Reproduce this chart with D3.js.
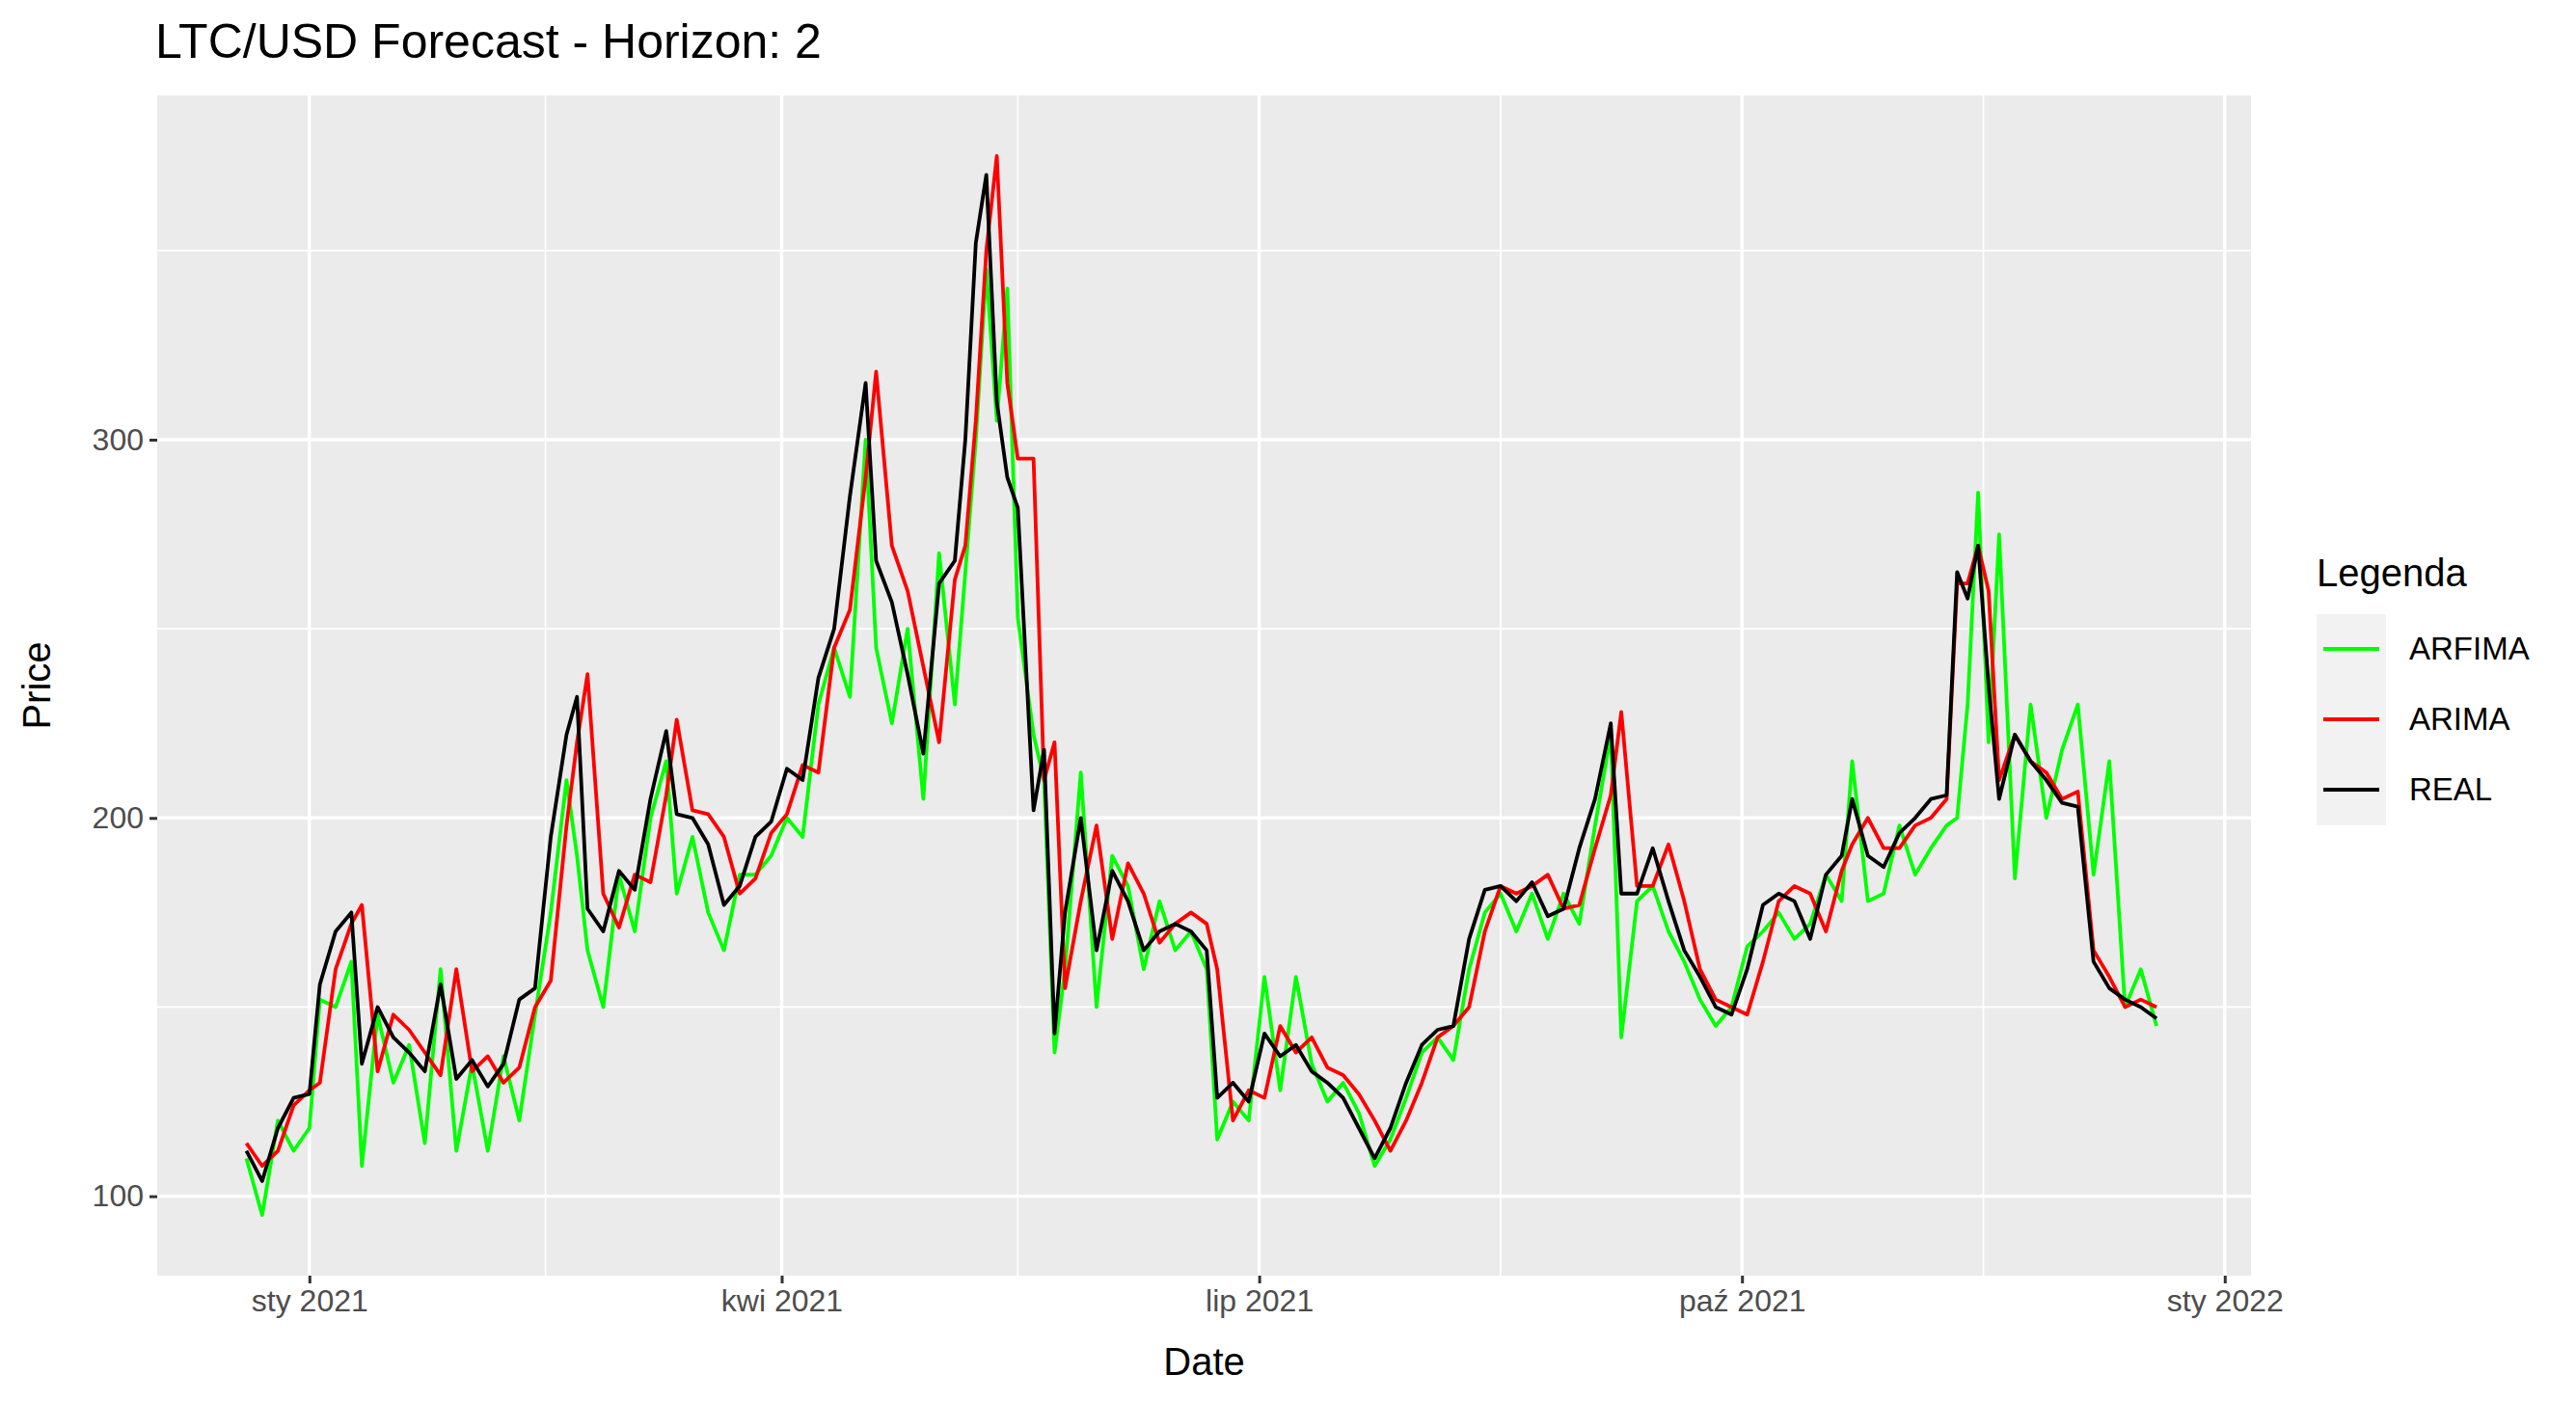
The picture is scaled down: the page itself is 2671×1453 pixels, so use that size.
<!DOCTYPE html>
<html>
<head>
<meta charset="utf-8">
<script src="https://cdn.jsdelivr.net/npm/d3@7"></script>
<style>
  body { margin: 0; background: #fff; }
  text { font-family: "Liberation Sans", Arial, sans-serif; }
</style>
</head>
<body>
<svg id="chart" width="2671" height="1453"></svg>
<script>
// ---- data (~every 3 days) ----
const dates = ["2020-12-20","2020-12-23","2020-12-26","2020-12-29","2021-01-01","2021-01-03","2021-01-06","2021-01-09","2021-01-11","2021-01-14","2021-01-17","2021-01-20","2021-01-23","2021-01-26","2021-01-29","2021-02-01","2021-02-04","2021-02-07","2021-02-10","2021-02-13","2021-02-16","2021-02-19","2021-02-21","2021-02-23","2021-02-26","2021-03-01","2021-03-04","2021-03-07","2021-03-10","2021-03-12","2021-03-15","2021-03-18","2021-03-21","2021-03-24","2021-03-27","2021-03-30","2021-04-02","2021-04-05","2021-04-08","2021-04-11","2021-04-14","2021-04-17","2021-04-19","2021-04-22","2021-04-25","2021-04-28","2021-05-01","2021-05-04","2021-05-06","2021-05-08","2021-05-10","2021-05-12","2021-05-14","2021-05-16","2021-05-19","2021-05-21","2021-05-23","2021-05-25","2021-05-28","2021-05-31","2021-06-03","2021-06-06","2021-06-09","2021-06-12","2021-06-15","2021-06-18","2021-06-21","2021-06-23","2021-06-26","2021-06-29","2021-07-02","2021-07-05","2021-07-08","2021-07-11","2021-07-14","2021-07-17","2021-07-20","2021-07-23","2021-07-26","2021-07-29","2021-08-01","2021-08-04","2021-08-07","2021-08-10","2021-08-13","2021-08-16","2021-08-19","2021-08-22","2021-08-25","2021-08-28","2021-08-31","2021-09-03","2021-09-06","2021-09-08","2021-09-11","2021-09-14","2021-09-17","2021-09-20","2021-09-23","2021-09-26","2021-09-29","2021-10-02","2021-10-05","2021-10-08","2021-10-11","2021-10-14","2021-10-17","2021-10-20","2021-10-22","2021-10-25","2021-10-28","2021-10-31","2021-11-03","2021-11-06","2021-11-09","2021-11-11","2021-11-13","2021-11-15","2021-11-17","2021-11-19","2021-11-22","2021-11-25","2021-11-28","2021-12-01","2021-12-04","2021-12-07","2021-12-10","2021-12-13","2021-12-16","2021-12-19"];

const real = [112,104,118,126,127,156,170,175,135,150,142,138,133,156,131,136,129,135,152,155,195,222,232,176,170,186,181,205,223,201,200,193,177,182,195,199,213,210,237,250,285,315,268,257,238,217,262,268,300,352,370,310,290,282,202,218,143,175,200,165,186,178,165,170,172,170,165,126,130,125,143,137,140,133,130,126,118,110,118,130,140,144,145,168,181,182,178,183,174,176,192,205,225,180,180,192,178,165,158,150,148,160,177,180,178,168,185,190,205,190,187,196,200,205,206,265,258,272,235,205,222,215,210,204,203,162,155,152,150,147,155];

const arima = [114,108,112,124,128,130,160,172,177,133,148,144,138,132,160,133,137,130,134,150,157,198,220,238,180,171,185,183,206,226,202,201,195,180,184,196,201,214,212,245,255,290,318,272,260,240,220,263,272,305,350,375,315,295,295,210,220,155,178,198,168,188,180,167,172,175,172,160,120,128,126,145,138,142,134,132,127,120,112,120,130,142,145,150,170,182,180,182,185,176,177,192,206,228,182,182,193,178,160,152,150,148,162,178,182,180,170,186,193,200,192,192,198,200,205,262,262,272,260,210,222,215,212,205,207,165,158,150,152,150,145];

const arfima = [110,95,120,112,118,152,150,162,108,148,130,140,114,160,112,135,112,137,120,148,175,210,190,165,150,185,170,200,215,180,195,175,165,185,185,190,200,195,230,245,232,300,245,225,250,205,270,230,265,300,345,305,340,253,222,210,138,160,212,150,190,182,160,178,165,170,160,115,125,120,158,128,158,135,125,130,122,108,115,126,138,142,136,160,175,180,170,180,168,180,172,198,222,142,178,182,170,162,152,145,150,166,170,175,168,172,185,178,215,178,180,198,185,192,198,200,230,286,220,275,184,230,200,218,230,185,215,150,160,145,167,148];

const seriesNames = ["ARFIMA", "ARIMA", "REAL"];
const seriesColors = ["#00FF00", "#FF0000", "#000000"];
const yTicks = [100, 200, 300];
const yMinor = [150, 250, 350];
const xTickDates = ["2021-01-01","2021-04-01","2021-07-01","2021-10-01","2022-01-01"];
const xTickLabels = ["sty 2021", "kwi 2021", "lip 2021", "paź 2021", "sty 2022"];
const xMinorDates = ["2021-02-15","2021-05-16","2021-08-16","2021-11-16"];

// ---- layout ----
const panel = { left: 163, right: 2334, top: 99, bottom: 1323 };
const parse = d3.timeParse("%Y-%m-%d");

const x = d3.scaleTime()
  .domain([parse("2020-12-03"), parse("2022-01-06")])
  .range([panel.left, panel.right]);
const y = d3.scaleLinear()
  .domain([79, 391])
  .range([panel.bottom, panel.top]);

const svg = d3.select("#chart");

// panel background
svg.append("rect")
  .attr("x", panel.left).attr("y", panel.top)
  .attr("width", panel.right - panel.left)
  .attr("height", panel.bottom - panel.top)
  .attr("fill", "#EBEBEB");

// grid lines
const grid = svg.append("g");
yMinor.forEach(v => grid.append("line")
  .attr("x1", panel.left).attr("x2", panel.right)
  .attr("y1", y(v)).attr("y2", y(v))
  .attr("stroke", "#fff").attr("stroke-width", 1.7));
xMinorDates.forEach(d => grid.append("line")
  .attr("x1", x(parse(d))).attr("x2", x(parse(d)))
  .attr("y1", panel.top).attr("y2", panel.bottom)
  .attr("stroke", "#fff").attr("stroke-width", 1.7));
yTicks.forEach(v => grid.append("line")
  .attr("x1", panel.left).attr("x2", panel.right)
  .attr("y1", y(v)).attr("y2", y(v))
  .attr("stroke", "#fff").attr("stroke-width", 3.4));
xTickDates.forEach(d => grid.append("line")
  .attr("x1", x(parse(d))).attr("x2", x(parse(d)))
  .attr("y1", panel.top).attr("y2", panel.bottom)
  .attr("stroke", "#fff").attr("stroke-width", 3.4));

// axes
const xAxis = svg.append("g")
  .attr("transform", `translate(0, ${panel.bottom})`)
  .call(d3.axisBottom(x)
    .tickValues(xTickDates.map(parse))
    .tickFormat((d, i) => xTickLabels[i])
    .tickSize(8).tickSizeOuter(0).tickPadding(6));
const yAxis = svg.append("g")
  .attr("transform", `translate(${panel.left}, 0)`)
  .call(d3.axisLeft(y).tickValues(yTicks).tickSize(8).tickSizeOuter(0).tickPadding(6));

[xAxis, yAxis].forEach(a => {
  a.select(".domain").remove();
  a.selectAll("line").attr("stroke", "#333333").attr("stroke-width", 3);
  a.selectAll("text").attr("fill", "#4D4D4D")
    .style("font-size", "32px")
    .style("font-family", "Liberation Sans, Arial, sans-serif");
});

// lines
const line = d3.line()
  .x((d, i) => x(parse(dates[i])))
  .y(d => y(d));
[arfima, arima, real].forEach((vals, k) => {
  svg.append("path")
    .datum(vals.slice(0, dates.length))
    .attr("fill", "none")
    .attr("stroke", seriesColors[k])
    .attr("stroke-width", 3.8)
    .attr("stroke-linejoin", "round")
    .attr("d", line);
});

// titles
svg.append("text").attr("x", 161).attr("y", 60)
  .style("font-size", "50px").attr("fill", "#000")
  .text("LTC/USD Forecast - Horizon: 2");
svg.append("text").attr("x", (panel.left + panel.right) / 2).attr("y", 1426)
  .attr("text-anchor", "middle").style("font-size", "40px")
  .text("Date");
svg.append("text")
  .attr("transform", `translate(52, ${(panel.top + panel.bottom) / 2}) rotate(-90)`)
  .attr("text-anchor", "middle").style("font-size", "40px")
  .text("Price");

// legend
const lg = svg.append("g").attr("transform", "translate(2402, 0)");
lg.append("text").attr("x", 0).attr("y", 608)
  .style("font-size", "40px").text("Legenda");
seriesNames.forEach((name, i) => {
  const cy = 673 + i * 73;
  lg.append("rect").attr("x", 0).attr("y", cy - 36)
    .attr("width", 72).attr("height", 73).attr("fill", "#F2F2F2");
  lg.append("line").attr("x1", 7).attr("x2", 65)
    .attr("y1", cy).attr("y2", cy)
    .attr("stroke", seriesColors[i]).attr("stroke-width", 3.8);
  lg.append("text").attr("x", 96).attr("y", cy + 11)
    .style("font-size", "33px").text(name);
});
</script>
</body>
</html>
